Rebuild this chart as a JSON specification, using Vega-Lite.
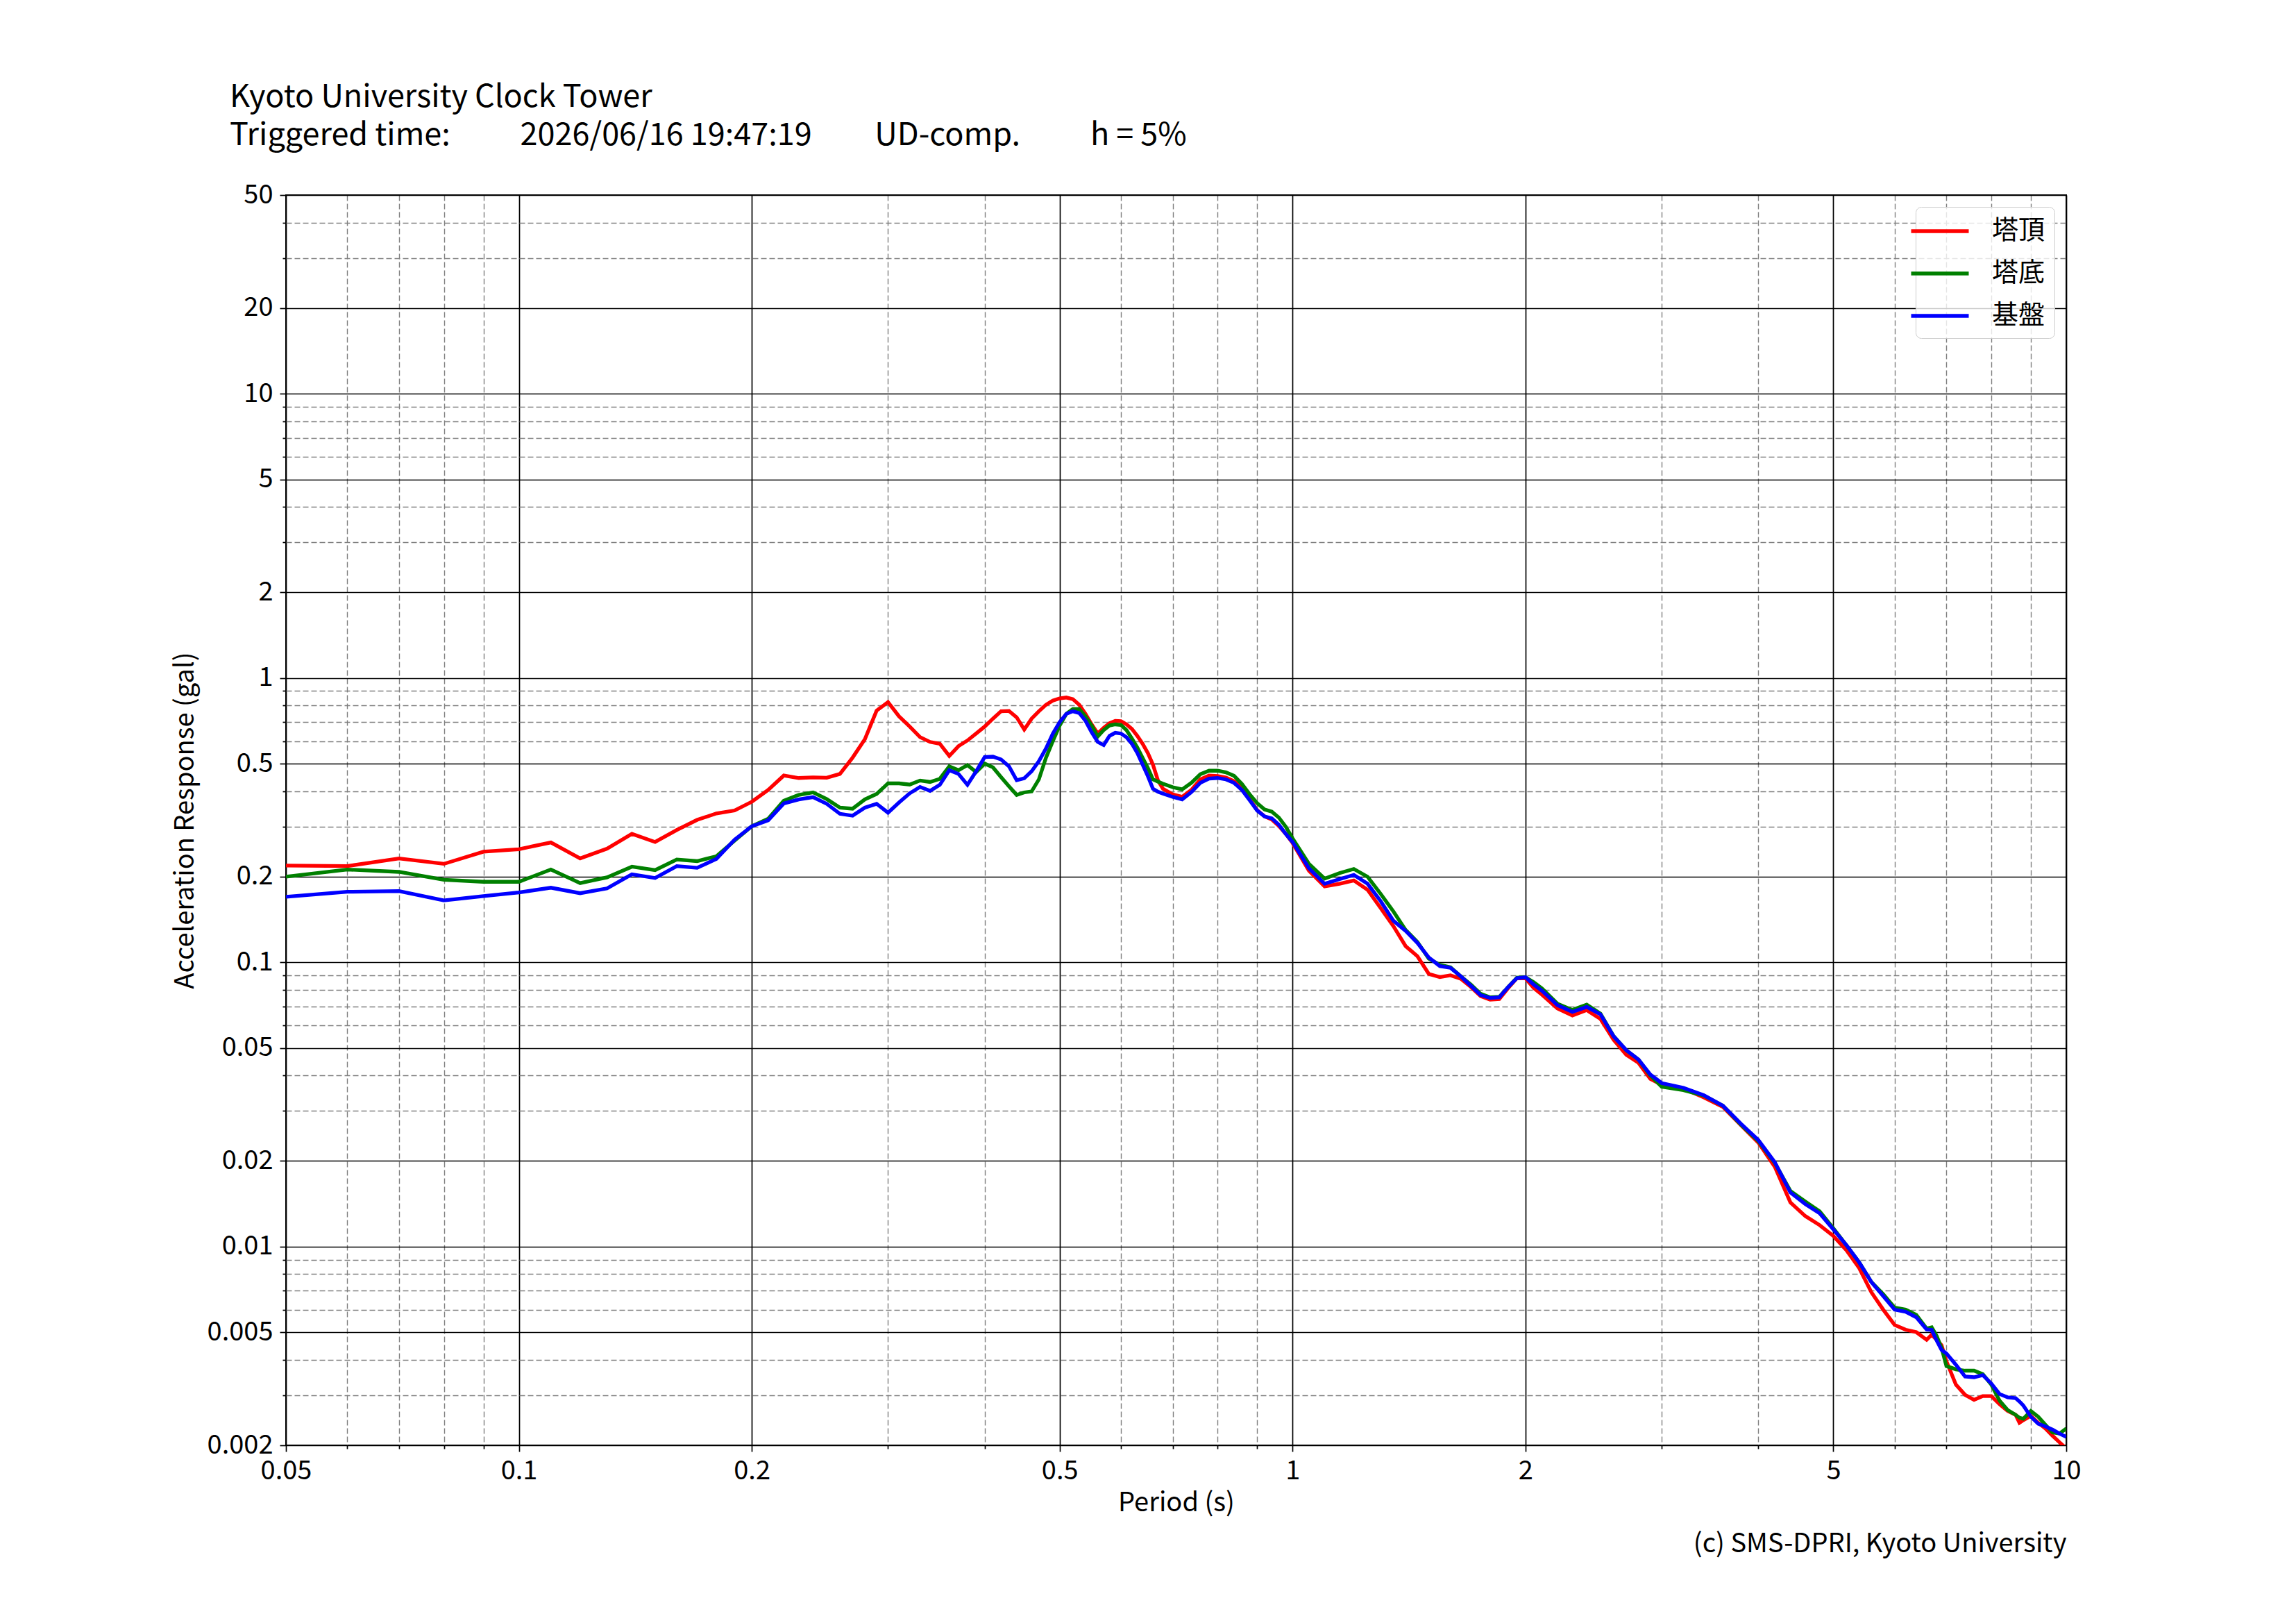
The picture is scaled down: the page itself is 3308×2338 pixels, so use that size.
{
  "$schema": "https://vega.github.io/schema/vega-lite/v6.json",
  "width": 2565,
  "height": 1801,
  "autosize": {"type": "none"},
  "padding": {"left": 412, "top": 281, "right": 331, "bottom": 256},
  "background": "white",
  "config": {
    "font": "Noto Sans CJK JP",
    "view": {"stroke": "black", "strokeWidth": 2},
    "axis": {
      "domain": false,
      "labelFont": "Noto Sans CJK JP",
      "labelFontSize": 38,
      "labelColor": "black",
      "labelFlush": false,
      "titleFont": "Noto Sans CJK JP",
      "titleFontSize": 38,
      "titleFontWeight": "normal",
      "titleColor": "black",
      "tickColor": "black",
      "tickWidth": 1.7,
      "gridOpacity": 1
    }
  },
  "title": {
    "text": [
      "Kyoto University Clock Tower",
      "Triggered time:\u00a0\u00a0\u00a0\u00a0\u00a0\u00a0\u00a0\u00a0\u00a0\u00a02026/06/16 19:47:19\u00a0\u00a0\u00a0\u00a0\u00a0\u00a0\u00a0\u00a0\u00a0UD-comp.\u00a0\u00a0\u00a0\u00a0\u00a0\u00a0\u00a0\u00a0\u00a0\u00a0h = 5%"
    ],
    "anchor": "start",
    "frame": "group",
    "dx": -81,
    "offset": 8,
    "baseline": "alphabetic",
    "font": "Noto Sans CJK JP",
    "fontSize": 45,
    "fontWeight": "normal",
    "color": "black",
    "lineHeight": 55
  },
  "data": {
    "values": [
      {"p": 0.05, "塔頂": 0.219, "塔底": 0.200, "基盤": 0.170},
      {"p": 0.06, "塔頂": 0.218, "塔底": 0.212, "基盤": 0.177},
      {"p": 0.07, "塔頂": 0.232, "塔底": 0.208, "基盤": 0.178},
      {"p": 0.08, "塔頂": 0.222, "塔底": 0.195, "基盤": 0.165},
      {"p": 0.09, "塔頂": 0.245, "塔底": 0.192, "基盤": 0.171},
      {"p": 0.10, "塔頂": 0.250, "塔底": 0.192, "基盤": 0.176},
      {"p": 0.11, "塔頂": 0.264, "塔底": 0.212, "基盤": 0.183},
      {"p": 0.12, "塔頂": 0.232, "塔底": 0.190, "基盤": 0.175},
      {"p": 0.13, "塔頂": 0.251, "塔底": 0.199, "基盤": 0.182},
      {"p": 0.14, "塔頂": 0.283, "塔底": 0.217, "基盤": 0.204},
      {"p": 0.15, "塔頂": 0.265, "塔底": 0.211, "基盤": 0.198},
      {"p": 0.16, "塔頂": 0.292, "塔底": 0.230, "基盤": 0.218},
      {"p": 0.17, "塔頂": 0.317, "塔底": 0.227, "基盤": 0.215},
      {"p": 0.18, "塔頂": 0.334, "塔底": 0.236, "基盤": 0.231},
      {"p": 0.19, "塔頂": 0.342, "塔底": 0.268, "基盤": 0.270},
      {"p": 0.20, "塔頂": 0.367, "塔底": 0.301, "基盤": 0.301},
      {"p": 0.21, "塔頂": 0.404, "塔底": 0.320, "基盤": 0.316},
      {"p": 0.22, "塔頂": 0.454, "塔底": 0.370, "基盤": 0.362},
      {"p": 0.23, "塔頂": 0.445, "塔底": 0.388, "基盤": 0.374},
      {"p": 0.24, "塔頂": 0.447, "塔底": 0.396, "基盤": 0.381},
      {"p": 0.25, "塔頂": 0.446, "塔底": 0.375, "基盤": 0.361},
      {"p": 0.26, "塔頂": 0.460, "塔底": 0.350, "基盤": 0.333},
      {"p": 0.27, "塔頂": 0.525, "塔底": 0.347, "基盤": 0.328},
      {"p": 0.28, "塔頂": 0.609, "塔底": 0.374, "基盤": 0.350},
      {"p": 0.29, "塔頂": 0.768, "塔底": 0.391, "基盤": 0.361},
      {"p": 0.30, "塔頂": 0.823, "塔底": 0.426, "基盤": 0.336},
      {"p": 0.31, "塔頂": 0.733, "塔底": 0.426, "基盤": 0.365},
      {"p": 0.32, "塔頂": 0.675, "塔底": 0.422, "基盤": 0.393},
      {"p": 0.33, "塔頂": 0.620, "塔底": 0.436, "基盤": 0.414},
      {"p": 0.34, "塔頂": 0.596, "塔底": 0.431, "基盤": 0.401},
      {"p": 0.35, "塔頂": 0.587, "塔底": 0.442, "基盤": 0.421},
      {"p": 0.36, "塔頂": 0.532, "塔底": 0.489, "基盤": 0.474},
      {"p": 0.37, "塔頂": 0.576, "塔底": 0.474, "基盤": 0.460},
      {"p": 0.38, "塔頂": 0.603, "塔底": 0.494, "基盤": 0.421},
      {"p": 0.39, "塔頂": 0.638, "塔底": 0.467, "基盤": 0.470},
      {"p": 0.40, "塔頂": 0.675, "塔底": 0.500, "基盤": 0.527},
      {"p": 0.41, "塔頂": 0.720, "塔底": 0.485, "基盤": 0.529},
      {"p": 0.42, "塔頂": 0.764, "塔底": 0.448, "基盤": 0.517},
      {"p": 0.43, "塔頂": 0.766, "塔底": 0.416, "基盤": 0.489},
      {"p": 0.44, "塔頂": 0.727, "塔底": 0.388, "基盤": 0.437},
      {"p": 0.45, "塔頂": 0.659, "塔底": 0.396, "基盤": 0.444},
      {"p": 0.46, "塔頂": 0.720, "塔底": 0.399, "基盤": 0.470},
      {"p": 0.47, "塔頂": 0.764, "塔底": 0.440, "基盤": 0.510},
      {"p": 0.48, "塔頂": 0.805, "塔底": 0.524, "基盤": 0.565},
      {"p": 0.49, "塔頂": 0.833, "塔底": 0.600, "基盤": 0.638},
      {"p": 0.50, "塔頂": 0.848, "塔底": 0.681, "基盤": 0.700},
      {"p": 0.51, "塔頂": 0.854, "塔底": 0.748, "基盤": 0.748},
      {"p": 0.52, "塔頂": 0.843, "塔底": 0.778, "基盤": 0.764},
      {"p": 0.53, "塔頂": 0.805, "塔底": 0.778, "基盤": 0.753},
      {"p": 0.54, "塔頂": 0.748, "塔底": 0.733, "基盤": 0.707},
      {"p": 0.55, "塔頂": 0.687, "塔底": 0.681, "基盤": 0.644},
      {"p": 0.56, "塔頂": 0.638, "塔底": 0.623, "基盤": 0.596},
      {"p": 0.57, "塔頂": 0.668, "塔底": 0.656, "基盤": 0.581},
      {"p": 0.58, "塔頂": 0.694, "塔底": 0.681, "基盤": 0.626},
      {"p": 0.59, "塔頂": 0.707, "塔底": 0.687, "基盤": 0.642},
      {"p": 0.60, "塔頂": 0.705, "塔底": 0.684, "基盤": 0.638},
      {"p": 0.61, "塔頂": 0.687, "塔底": 0.656, "基盤": 0.619},
      {"p": 0.62, "塔頂": 0.662, "塔底": 0.613, "基盤": 0.587},
      {"p": 0.63, "塔頂": 0.626, "塔底": 0.570, "基盤": 0.545},
      {"p": 0.64, "塔頂": 0.587, "塔底": 0.524, "基盤": 0.496},
      {"p": 0.65, "塔頂": 0.545, "塔底": 0.483, "基盤": 0.452},
      {"p": 0.66, "塔頂": 0.496, "塔底": 0.440, "基盤": 0.408},
      {"p": 0.67, "塔頂": 0.436, "塔底": 0.432, "基盤": 0.398},
      {"p": 0.68, "塔頂": 0.408, "塔底": 0.425, "基盤": 0.392},
      {"p": 0.70, "塔頂": 0.390, "塔底": 0.413, "基盤": 0.382},
      {"p": 0.72, "塔頂": 0.382, "塔底": 0.406, "基盤": 0.374},
      {"p": 0.74, "塔頂": 0.404, "塔底": 0.428, "基盤": 0.397},
      {"p": 0.76, "塔頂": 0.440, "塔底": 0.459, "基盤": 0.428},
      {"p": 0.78, "塔頂": 0.454, "塔底": 0.472, "基盤": 0.443},
      {"p": 0.80, "塔頂": 0.452, "塔底": 0.472, "基盤": 0.445},
      {"p": 0.82, "塔頂": 0.447, "塔底": 0.466, "基盤": 0.440},
      {"p": 0.84, "塔頂": 0.434, "塔底": 0.453, "基盤": 0.428},
      {"p": 0.86, "塔頂": 0.412, "塔底": 0.424, "基盤": 0.404},
      {"p": 0.88, "塔頂": 0.375, "塔底": 0.390, "基盤": 0.372},
      {"p": 0.90, "塔頂": 0.343, "塔底": 0.363, "基盤": 0.342},
      {"p": 0.92, "塔頂": 0.326, "塔底": 0.345, "基盤": 0.326},
      {"p": 0.94, "塔頂": 0.318, "塔底": 0.339, "基盤": 0.321},
      {"p": 0.96, "塔頂": 0.302, "塔底": 0.323, "基盤": 0.305},
      {"p": 0.98, "塔頂": 0.283, "塔底": 0.300, "基盤": 0.283},
      {"p": 1.00, "塔頂": 0.263, "塔底": 0.273, "基盤": 0.265},
      {"p": 1.05, "塔頂": 0.210, "塔底": 0.222, "基盤": 0.214},
      {"p": 1.10, "塔頂": 0.185, "塔底": 0.197, "基盤": 0.189},
      {"p": 1.15, "塔頂": 0.189, "塔底": 0.206, "基盤": 0.196},
      {"p": 1.20, "塔頂": 0.194, "塔底": 0.213, "基盤": 0.203},
      {"p": 1.25, "塔頂": 0.180, "塔底": 0.200, "基盤": 0.189},
      {"p": 1.30, "塔頂": 0.155, "塔底": 0.174, "基盤": 0.164},
      {"p": 1.35, "塔頂": 0.134, "塔底": 0.151, "基盤": 0.140},
      {"p": 1.40, "塔頂": 0.114, "塔底": 0.130, "基盤": 0.129},
      {"p": 1.45, "塔頂": 0.105, "塔底": 0.118, "基盤": 0.117},
      {"p": 1.50, "塔頂": 0.091, "塔底": 0.103, "基盤": 0.104},
      {"p": 1.55, "塔頂": 0.0887, "塔底": 0.098, "基盤": 0.097},
      {"p": 1.60, "塔頂": 0.090, "塔底": 0.096, "基盤": 0.0956},
      {"p": 1.65, "塔頂": 0.0875, "塔底": 0.0892, "基盤": 0.0892},
      {"p": 1.70, "塔頂": 0.0819, "塔底": 0.0835, "基盤": 0.0827},
      {"p": 1.75, "塔頂": 0.0760, "塔底": 0.0775, "基盤": 0.0767},
      {"p": 1.80, "塔頂": 0.0739, "塔底": 0.0753, "基盤": 0.0749},
      {"p": 1.85, "塔頂": 0.0743, "塔底": 0.0756, "基盤": 0.0753},
      {"p": 1.90, "塔頂": 0.0812, "塔底": 0.0819, "基盤": 0.0819},
      {"p": 1.95, "塔頂": 0.0880, "塔底": 0.0883, "基盤": 0.0880},
      {"p": 2.00, "塔頂": 0.0878, "塔底": 0.0886, "基盤": 0.0886},
      {"p": 2.05, "塔頂": 0.0812, "塔底": 0.0851, "基盤": 0.0835},
      {"p": 2.10, "塔頂": 0.0770, "塔底": 0.0810, "基盤": 0.0795},
      {"p": 2.2, "塔頂": 0.0688, "塔底": 0.0715, "基盤": 0.0707},
      {"p": 2.3, "塔頂": 0.0650, "塔底": 0.0680, "基盤": 0.0669},
      {"p": 2.4, "塔頂": 0.0679, "塔底": 0.0710, "基盤": 0.0697},
      {"p": 2.5, "塔頂": 0.0632, "塔底": 0.0660, "基盤": 0.0656},
      {"p": 2.6, "塔頂": 0.0534, "塔底": 0.0550, "基盤": 0.0549},
      {"p": 2.7, "塔頂": 0.0473, "塔底": 0.0490, "基盤": 0.0491},
      {"p": 2.8, "塔頂": 0.0443, "塔底": 0.0455, "基盤": 0.0455},
      {"p": 2.9, "塔頂": 0.0389, "塔底": 0.0400, "基盤": 0.0403},
      {"p": 3.0, "塔頂": 0.0371, "塔底": 0.0365, "基盤": 0.0376},
      {"p": 3.2, "塔頂": 0.0360, "塔底": 0.0355, "基盤": 0.0362},
      {"p": 3.4, "塔頂": 0.0335, "塔底": 0.0340, "基盤": 0.0341},
      {"p": 3.6, "塔頂": 0.0310, "塔底": 0.0313, "基盤": 0.0313},
      {"p": 3.8, "塔頂": 0.0267, "塔底": 0.0268, "基盤": 0.0270},
      {"p": 4.0, "塔頂": 0.0232, "塔底": 0.0235, "基盤": 0.0237},
      {"p": 4.2, "塔頂": 0.0191, "塔底": 0.0197, "基盤": 0.0198},
      {"p": 4.4, "塔頂": 0.0143, "塔底": 0.0157, "基盤": 0.0155},
      {"p": 4.6, "塔頂": 0.0128, "塔底": 0.0144, "基盤": 0.0141},
      {"p": 4.8, "塔頂": 0.0119, "塔底": 0.0133, "基盤": 0.0131},
      {"p": 5.0, "塔頂": 0.0109, "塔底": 0.0116, "基盤": 0.0115},
      {"p": 5.2, "塔頂": 0.0097, "塔底": 0.0101, "基盤": 0.0101},
      {"p": 5.4, "塔頂": 0.0084, "塔底": 0.0088, "基盤": 0.0088},
      {"p": 5.6, "塔頂": 0.0069, "塔底": 0.0075, "基盤": 0.0075},
      {"p": 5.8, "塔頂": 0.0060, "塔底": 0.0068, "基盤": 0.0067},
      {"p": 6.0, "塔頂": 0.0053, "塔底": 0.0061, "基盤": 0.0060},
      {"p": 6.2, "塔頂": 0.0051, "塔底": 0.0060, "基盤": 0.0059},
      {"p": 6.4, "塔頂": 0.0050, "塔底": 0.00575, "基盤": 0.00564},
      {"p": 6.6, "塔頂": 0.0047, "塔底": 0.00515, "基盤": 0.00511},
      {"p": 6.7, "塔頂": 0.0049, "塔底": 0.0052, "基盤": 0.00509},
      {"p": 6.8, "塔頂": 0.0047, "塔底": 0.00485, "基盤": 0.00467},
      {"p": 6.9, "塔頂": 0.0045, "塔底": 0.0044, "基盤": 0.00433},
      {"p": 7.0, "塔頂": 0.00395, "塔底": 0.0038, "基盤": 0.00421},
      {"p": 7.2, "塔頂": 0.00327, "塔底": 0.0037, "基盤": 0.00384},
      {"p": 7.4, "塔頂": 0.00301, "塔底": 0.00366, "基盤": 0.00349},
      {"p": 7.6, "塔頂": 0.00289, "塔底": 0.00366, "基盤": 0.00347},
      {"p": 7.8, "塔頂": 0.00298, "塔底": 0.00356, "基盤": 0.00353},
      {"p": 8.0, "塔頂": 0.00298, "塔底": 0.00327, "基盤": 0.00330},
      {"p": 8.2, "塔頂": 0.00279, "塔底": 0.00287, "基盤": 0.00303},
      {"p": 8.4, "塔頂": 0.00264, "塔底": 0.00266, "基盤": 0.00295},
      {"p": 8.6, "塔頂": 0.00256, "塔底": 0.00256, "基盤": 0.00293},
      {"p": 8.7, "塔頂": 0.00240, "塔底": 0.00250, "基盤": 0.00285},
      {"p": 8.8, "塔頂": 0.00245, "塔底": 0.00248, "基盤": 0.00276},
      {"p": 9.0, "塔頂": 0.00254, "塔底": 0.00264, "基盤": 0.00252},
      {"p": 9.2, "塔頂": 0.00240, "塔底": 0.00252, "基盤": 0.00238},
      {"p": 9.4, "塔頂": 0.00229, "塔底": 0.00236, "基盤": 0.00233},
      {"p": 9.6, "塔頂": 0.00216, "塔底": 0.00222, "基盤": 0.00227},
      {"p": 9.8, "塔頂": 0.00205, "塔底": 0.00220, "基盤": 0.00220},
      {"p": 10.0, "塔頂": 0.00195, "塔底": 0.00229, "基盤": 0.00214}
    ]
  },
  "transform": [{"fold": ["塔頂", "塔底", "基盤"], "as": ["series", "acc"]}],
  "layer": [
    {
      "mark": {"type": "line", "opacity": 0},
      "encoding": {
        "x": {
          "field": "p",
          "type": "quantitative",
          "scale": {"type": "log", "domain": [0.05, 10], "nice": false},
          "axis": {
            "orient": "bottom",
            "values": [0.06, 0.07, 0.08, 0.09, 0.3, 0.4, 0.6, 0.7, 0.8, 0.9, 3, 4, 6, 7, 8, 9],
            "labels": false,
            "tickSize": 5,
            "grid": true,
            "gridColor": "#7f7f7f",
            "gridDash": [8, 4],
            "gridWidth": 1.4,
            "title": "(c) SMS-DPRI, Kyoto University",
            "titleAnchor": "end",
            "titlePadding": 118
          }
        },
        "y": {
          "field": "acc",
          "type": "quantitative",
          "scale": {"type": "log", "domain": [0.002, 50], "nice": false},
          "axis": {
            "orient": "left",
            "values": [0.003, 0.004, 0.006, 0.007, 0.008, 0.009, 0.03, 0.04, 0.06, 0.07, 0.08, 0.09, 0.3, 0.4, 0.6, 0.7, 0.8, 0.9, 3, 4, 6, 7, 8, 9, 30, 40],
            "labels": false,
            "tickSize": 5,
            "grid": true,
            "gridColor": "#7f7f7f",
            "gridDash": [8, 4],
            "gridWidth": 1.4,
            "title": null
          }
        },
        "detail": {"field": "series"}
      }
    },
    {
      "mark": {"type": "line", "strokeWidth": 5.3, "clip": true},
      "encoding": {
        "x": {
          "field": "p",
          "type": "quantitative",
          "scale": {"type": "log", "domain": [0.05, 10], "nice": false},
          "axis": {
            "orient": "bottom",
            "values": [0.05, 0.1, 0.2, 0.5, 1, 2, 5, 10],
            "format": "~g",
            "tickSize": 9,
            "labelPadding": 9,
            "grid": true,
            "gridColor": "black",
            "gridWidth": 1.7,
            "title": "Period (s)",
            "titlePadding": 8
          }
        },
        "y": {
          "field": "acc",
          "type": "quantitative",
          "scale": {"type": "log", "domain": [0.002, 50], "nice": false},
          "axis": {
            "orient": "left",
            "values": [0.002, 0.005, 0.01, 0.02, 0.05, 0.1, 0.2, 0.5, 1, 2, 5, 10, 20, 50],
            "format": "~g",
            "tickSize": 9,
            "labelPadding": 10,
            "grid": true,
            "gridColor": "black",
            "gridWidth": 1.7,
            "title": "Acceleration Response (gal)",
            "titlePadding": 12
          }
        },
        "color": {
          "field": "series",
          "type": "nominal",
          "scale": {"domain": ["塔頂", "塔底", "基盤"], "range": ["#ff0000", "#008000", "#0000ff"]},
          "legend": {
            "title": null,
            "orient": "top-right",
            "offset": 17,
            "symbolType": "M-2.184,0L2.184,0",
            "symbolSize": 1444,
            "symbolStrokeWidth": 5.3,
            "labelFont": "Noto Sans CJK JP",
            "labelFontSize": 38,
            "labelColor": "black",
            "labelOffset": 53,
            "rowPadding": 20,
            "padding": 13,
            "cornerRadius": 8,
            "strokeColor": "#cccccc",
            "fillColor": "rgba(255,255,255,0.8)"
          }
        }
      }
    }
  ],
  "resolve": {"axis": {"x": "independent", "y": "independent"}}
}
